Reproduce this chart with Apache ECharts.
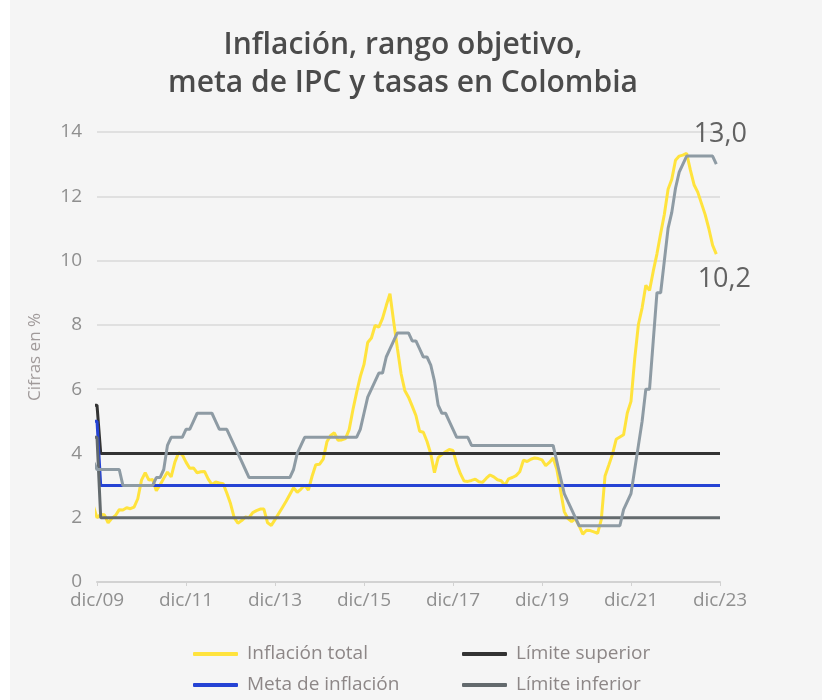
<!DOCTYPE html>
<html>
<head>
<meta charset="utf-8">
<script src="https://cdn.jsdelivr.net/npm/echarts@6/dist/echarts.min.js"></script>
<style>
  html, body { margin: 0; padding: 0; background: #ffffff; }
  #chart { position: absolute; left: 10px; top: 0; width: 812px; height: 700px; background: #f5f5f5; }
</style>
</head>
<body>
<div id="chart"></div>
<script>
// Monthly series, first value = oct/2009 (month index -2, where 0 = dic/2009)
const startIndex = -2;

// Inflación total anual (%), oct/2009 – nov/2023
const inflacionTotal = [
  2.72, 2.37, 2.00,
  2.10, 2.09, 1.84, 1.98, 2.07, 2.25, 2.24, 2.31, 2.28, 2.33, 2.59, 3.17,
  3.40, 3.17, 3.19, 2.84, 3.02, 3.23, 3.42, 3.27, 3.73, 4.02, 3.96, 3.73,
  3.54, 3.55, 3.40, 3.43, 3.44, 3.20, 3.03, 3.11, 3.08, 3.06, 2.77, 2.44,
  2.00, 1.83, 1.91, 2.02, 2.00, 2.16, 2.22, 2.27, 2.27, 1.84, 1.76, 1.94,
  2.13, 2.32, 2.51, 2.72, 2.93, 2.79, 2.89, 3.02, 2.86, 3.29, 3.65, 3.66,
  3.82, 4.36, 4.56, 4.64, 4.41, 4.42, 4.46, 4.74, 5.35, 5.89, 6.39, 6.77,
  7.45, 7.59, 7.98, 7.93, 8.20, 8.60, 8.97, 8.10, 7.27, 6.48, 5.96, 5.75,
  5.47, 5.18, 4.69, 4.66, 4.37, 3.99, 3.40, 3.87, 3.97, 4.05, 4.12, 4.09,
  3.68, 3.37, 3.14, 3.13, 3.16, 3.20, 3.12, 3.10, 3.23, 3.33, 3.27, 3.18,
  3.15, 3.01, 3.21, 3.25, 3.31, 3.43, 3.79, 3.75, 3.82, 3.86, 3.84, 3.80,
  3.62, 3.72, 3.86, 3.51, 2.85, 2.19, 1.97, 1.88, 1.97, 1.75, 1.49, 1.61,
  1.60, 1.56, 1.51, 1.95, 3.30, 3.63, 3.97, 4.44, 4.51, 4.58, 5.26, 5.62,
  6.94, 8.01, 8.53, 9.23, 9.07, 9.67, 10.21, 10.84, 11.44, 12.22, 12.53, 13.12,
  13.25, 13.28, 13.34, 12.82, 12.36, 12.13, 11.78, 11.43, 10.99, 10.48, 10.2
];

// Tasa de política monetaria (%), oct/2009 – dic/2023
const tasaPolitica = [
  4.00, 3.75, 3.50,
  3.50, 3.50, 3.50, 3.50, 3.50, 3.50, 3.00, 3.00, 3.00, 3.00, 3.00, 3.00,
  3.00, 3.00, 3.00, 3.25, 3.25, 3.50, 4.25, 4.50, 4.50, 4.50, 4.50, 4.75,
  4.75, 5.00, 5.25, 5.25, 5.25, 5.25, 5.25, 5.00, 4.75, 4.75, 4.75, 4.50,
  4.25, 4.00, 3.75, 3.50, 3.25, 3.25, 3.25, 3.25, 3.25, 3.25, 3.25, 3.25,
  3.25, 3.25, 3.25, 3.25, 3.50, 4.00, 4.25, 4.50, 4.50, 4.50, 4.50, 4.50,
  4.50, 4.50, 4.50, 4.50, 4.50, 4.50, 4.50, 4.50, 4.50, 4.50, 4.75, 5.25,
  5.75, 6.00, 6.25, 6.50, 6.50, 7.00, 7.25, 7.50, 7.75, 7.75, 7.75, 7.75,
  7.50, 7.50, 7.25, 7.00, 7.00, 6.75, 6.25, 5.50, 5.25, 5.25, 5.00, 4.75,
  4.50, 4.50, 4.50, 4.50, 4.25, 4.25, 4.25, 4.25, 4.25, 4.25, 4.25, 4.25,
  4.25, 4.25, 4.25, 4.25, 4.25, 4.25, 4.25, 4.25, 4.25, 4.25, 4.25, 4.25,
  4.25, 4.25, 4.25, 3.75, 3.25, 2.75, 2.50, 2.25, 2.00, 1.75, 1.75, 1.75,
  1.75, 1.75, 1.75, 1.75, 1.75, 1.75, 1.75, 1.75, 1.75, 2.25, 2.50, 2.75,
  3.50, 4.25, 5.00, 6.00, 6.00, 7.50, 9.00, 9.00, 10.00, 11.00, 11.50, 12.25,
  12.75, 13.00, 13.25, 13.25, 13.25, 13.25, 13.25, 13.25, 13.25, 13.25, 13.00
];

// Rango objetivo y meta: [mes, valor] en los puntos de cambio
const limiteSuperior = [[-2, 5.5], [0, 5.5], [1, 4.0], [168, 4.0]];
const metaInflacion  = [[-2, 5.0], [0, 5.0], [1, 3.0], [168, 3.0]];
const limiteInferior = [[-2, 4.5], [0, 4.5], [1, 2.0], [168, 2.0]];

// Etiquetas del eje horizontal (cada 24 meses desde dic/2009)
const xTickLabels = ['dic/09', 'dic/11', 'dic/13', 'dic/15', 'dic/17', 'dic/19', 'dic/21', 'dic/23'];
const yTicks = { min: 0, max: 14, interval: 2 };

const toPairs = arr => arr.map((v, i) => [startIndex + i, v]);
const fmt = v => v.toFixed(1).replace('.', ',');

const inflPairs = toPairs(inflacionTotal);
const tasaPairs = toPairs(tasaPolitica);
const lastInfl = inflPairs[inflPairs.length - 1];
const lastTasa = tasaPairs[tasaPairs.length - 1];

const FONT = '"Open Sans", "Noto Sans", sans-serif';
const LW = 3;

const chart = echarts.init(document.getElementById('chart'), null, { renderer: 'canvas' });

function endMark(pt, offset) {
  return {
    symbol: 'circle',
    symbolSize: 0.1,
    silent: true,
    data: [{ coord: pt, value: pt[1] }],
    label: {
      show: true,
      position: 'inside',
      offset: offset,
      formatter: p => fmt(p.value),
      color: '#626262',
      fontFamily: FONT,
      fontSize: 27
    }
  };
}

const baseLine = {
  type: 'line',
  showSymbol: false,
  clip: false,
  animation: false
};

const legendText = { color: '#8d8787', fontFamily: FONT, fontSize: 19, lineHeight: 20, padding: [0, 0, 0, 4] };

chart.setOption({
  backgroundColor: '#f5f5f5',
  animation: false,
  graphic: [
    {
      type: 'text',
      x: 393, y: 26,
      style: {
        text: 'Inflación, rango objetivo,\nmeta de IPC y tasas en Colombia',
        fill: '#4b4b4b',
        font: '600 30px ' + FONT,
        textAlign: 'center',
        lineHeight: 38
      }
    }
  ],
  legend: [
    {
      orient: 'vertical',
      left: 183, top: 644,
      padding: 0,
      itemWidth: 45, itemHeight: 4,
      itemGap: 11,
      icon: 'roundRect',
      selectedMode: false,
      textStyle: legendText,
      data: ['Inflación total', 'Meta de inflación']
    },
    {
      orient: 'vertical',
      left: 452, top: 644,
      padding: 0,
      itemWidth: 45, itemHeight: 4,
      itemGap: 11,
      icon: 'roundRect',
      selectedMode: false,
      textStyle: legendText,
      data: ['Límite superior', 'Límite inferior']
    }
  ],
  grid: { left: 87, right: 102, top: 132, bottom: 118 },
  xAxis: {
    type: 'value',
    min: 0, max: 168, interval: 24,
    axisLine: { show: true, lineStyle: { color: '#d2d2d2', width: 2 } },
    axisTick: { show: true, length: 4, lineStyle: { color: '#d2d2d2', width: 1 } },
    splitLine: { show: false },
    axisLabel: {
      formatter: v => xTickLabels[Math.round(v / 24)] || '',
      color: '#8f8f8f', fontFamily: FONT, fontSize: 19, margin: 9
    }
  },
  yAxis: {
    type: 'value',
    min: yTicks.min, max: yTicks.max, interval: yTicks.interval,
    name: 'Cifras en %',
    nameLocation: 'middle',
    nameGap: 53,
    nameRotate: 90,
    nameTextStyle: { color: '#a09a9a', fontFamily: FONT, fontSize: 17 },
    axisLine: { show: false },
    axisTick: { show: false },
    splitLine: { lineStyle: { color: '#e0e0e0', width: 2 } },
    axisLabel: { color: '#8f8f8f', fontFamily: FONT, fontSize: 19, margin: 15 }
  },
  series: [
    Object.assign({}, baseLine, {
      name: 'Inflación total',
      data: inflPairs,
      color: '#ffe33d',
      lineStyle: { color: '#ffe33d', width: LW },
      z: 2,
      markPoint: endMark(lastInfl, [8, 25])
    }),
    Object.assign({}, baseLine, {
      name: 'Límite superior',
      data: limiteSuperior,
      color: '#333333',
      lineStyle: { color: '#333333', width: LW },
      z: 3
    }),
    Object.assign({}, baseLine, {
      name: 'Meta de inflación',
      data: metaInflacion,
      color: '#2543d4',
      lineStyle: { color: '#2543d4', width: LW },
      z: 3
    }),
    Object.assign({}, baseLine, {
      name: 'Límite inferior',
      data: limiteInferior,
      color: '#636a6d',
      lineStyle: { color: '#636a6d', width: LW },
      z: 3
    }),
    Object.assign({}, baseLine, {
      name: 'Tasa de política monetaria',
      data: tasaPairs,
      color: '#8e9ba4',
      lineStyle: { color: '#8e9ba4', width: LW },
      z: 4,
      markPoint: endMark(lastTasa, [4, -30])
    })
  ]
});
</script>
</body>
</html>
